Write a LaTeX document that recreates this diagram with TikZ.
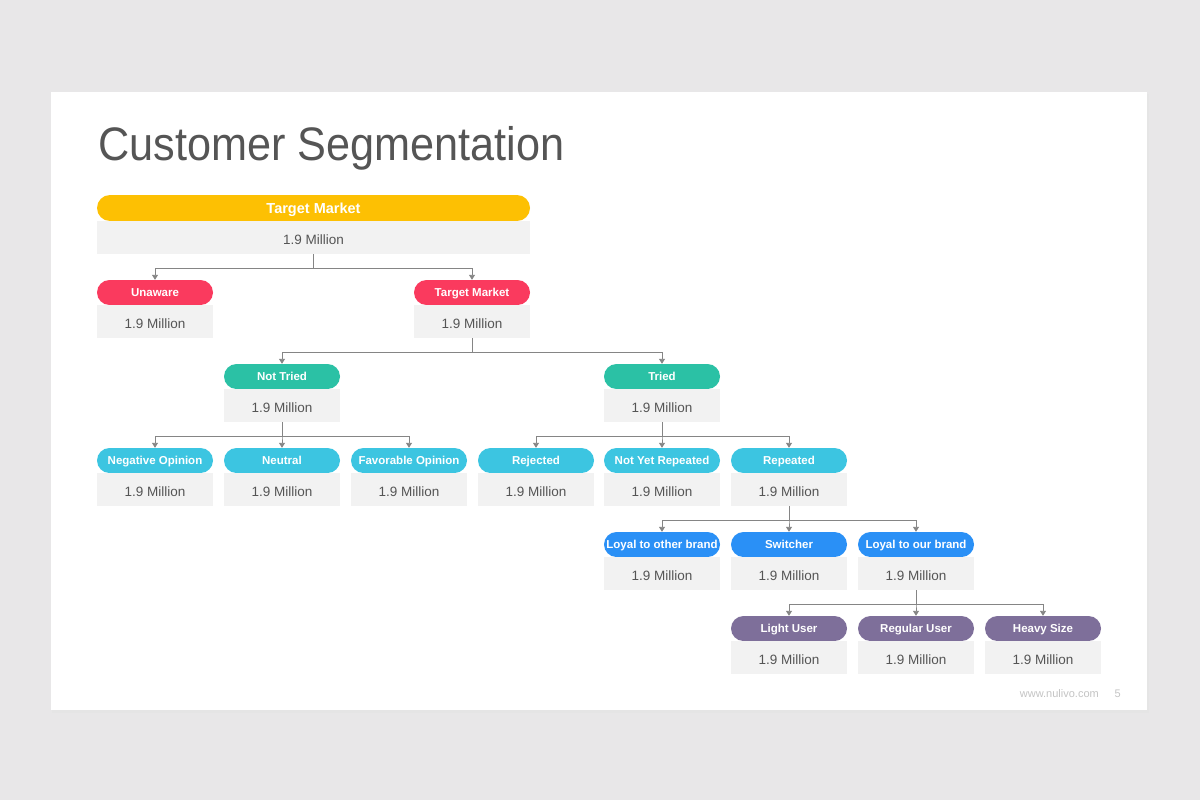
\documentclass[tikz,border=0pt]{standalone}
\usepackage{fontspec}
\setmainfont{Liberation Sans}
\newfontfamily\titlefont[FakeStretch=0.92]{Liberation Sans}
\usetikzlibrary{arrows.meta}
\definecolor{bgc}{HTML}{E8E7E8}
\definecolor{grayfill}{HTML}{F2F2F2}
\definecolor{txt}{HTML}{555555}
\definecolor{conn}{HTML}{858585}
\definecolor{cyel}{HTML}{FDC003}
\definecolor{cred}{HTML}{FA3A5E}
\definecolor{cteal}{HTML}{2BC1A5}
\definecolor{ccyan}{HTML}{3CC5E1}
\definecolor{cblue}{HTML}{2A90F6}
\definecolor{cpurp}{HTML}{7E6F9A}
\definecolor{foot}{HTML}{C4C4C4}
\tikzset{
  pill/.style={fill=#1, rounded corners=12.5pt, minimum width=116pt, minimum height=25pt,
    inner sep=0pt, text=white, text height=8.3pt, text depth=0pt,
    font=\fontsize{11.5}{13}\selectfont\bfseries},
  valbox/.style={fill=grayfill, minimum width=116pt, minimum height=33pt, inner sep=0pt,
    text=txt, text height=9.7pt, text depth=0pt, font=\fontsize{13.5}{15}\selectfont},
  link/.style={draw=conn, line width=0.9pt, -{Triangle[length=5pt,width=6pt]}},
}
% \seg{name}{left}{top}{colour}{label}
\newcommand\seg[5]{%
  \node[pill=#4] (#1) at (#2+58, #3+12.5) {#5};
  \node[valbox] (#1v) at (#2+58, #3+41.5) {\raisebox{-2pt}{1.9 Million}};
}
\begin{document}
\begin{tikzpicture}[x=1pt,y=-1pt]
\useasboundingbox (0,0) rectangle (1200,800);
\fill[bgc] (0,0) rectangle (1200,800);
% slide shadow and slide
\fill[black!10] (52,94) rectangle (1149,713);
\fill[white] (51,92) rectangle (1147,710);
\node[anchor=base west, inner sep=0pt, text=txt, font=\titlefont\fontsize{47}{50}\selectfont] (title) at (98,160) {Customer Segmentation};
% top box
\node[pill=cyel, minimum width=433pt, minimum height=26pt, rounded corners=13pt, text height=10.4pt, font=\fontsize{14.5}{16}\selectfont\bfseries] (top) at (313.5,208) {Target Market};
\node[valbox, minimum width=433pt] (topv) at (313.5,237.5) {\raisebox{-2pt}{1.9 Million}};
% rows
\seg{unaware}{97}{280}{cred}{Unaware}
\seg{tm}{414}{280}{cred}{Target Market}
\seg{nottried}{224}{364}{cteal}{Not Tried}
\seg{tried}{604}{364}{cteal}{Tried}
\seg{neg}{97}{448}{ccyan}{Negative Opinion}
\seg{neutral}{224}{448}{ccyan}{Neutral}
\seg{fav}{351}{448}{ccyan}{Favorable Opinion}
\seg{rej}{478}{448}{ccyan}{Rejected}
\seg{nyr}{604}{448}{ccyan}{Not Yet Repeated}
\seg{rep}{731}{448}{ccyan}{Repeated}
\seg{loyo}{604}{532}{cblue}{Loyal to other brand}
\seg{sw}{731}{532}{cblue}{Switcher}
\seg{loyu}{858}{532}{cblue}{Loyal to our brand}
\seg{light}{731}{616}{cpurp}{Light User}
\seg{regular}{858}{616}{cpurp}{Regular User}
\seg{heavy}{985}{616}{cpurp}{Heavy Size}
% connectors
\foreach \p/\c in {topv/unaware, topv/tm, tmv/nottried, tmv/tried,
  nottriedv/neg, nottriedv/neutral, nottriedv/fav,
  triedv/rej, triedv/nyr, triedv/rep,
  repv/loyo, repv/sw, repv/loyu,
  loyuv/light, loyuv/regular, loyuv/heavy}
  \draw[link] (\p.south) -- ++(0,14) -| (\c.north);
% footer
\node[anchor=base east, inner sep=0pt, text=foot, font=\fontsize{11}{13}\selectfont] (url) at (1099,697) {www.nulivo.com};
\node[anchor=base east, inner sep=0pt, text=foot, font=\fontsize{11}{13}\selectfont] (pg) at (1121,697) {5};
\end{tikzpicture}
\end{document}
